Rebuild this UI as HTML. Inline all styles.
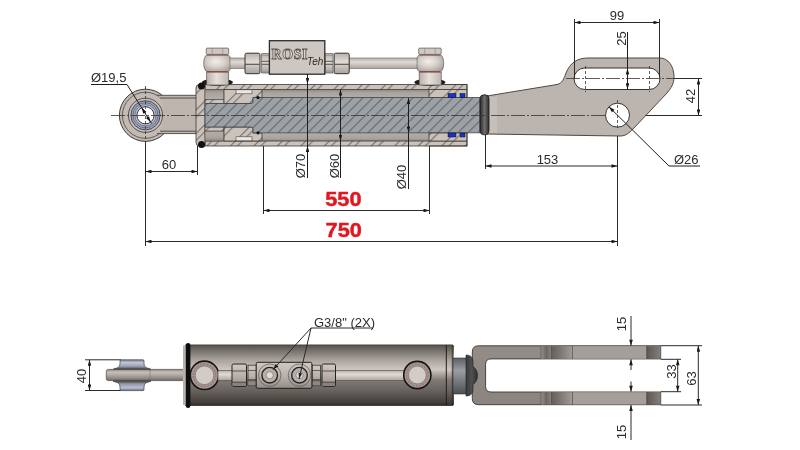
<!DOCTYPE html>
<html><head><meta charset="utf-8"><style>
html,body{margin:0;padding:0;background:#fff;width:800px;height:450px;overflow:hidden}
svg{display:block;will-change:transform}
text{font-family:"Liberation Sans",sans-serif}
</style></head><body>
<svg width="800" height="450" viewBox="0 0 800 450">
<defs>
  <pattern id="hB" patternUnits="userSpaceOnUse" width="16.6" height="20" patternTransform="rotate(45)">
    <rect width="16.6" height="20" fill="#cbc3bb"/>
    <line x1="0.6" y1="0" x2="0.6" y2="20" stroke="#4a4541" stroke-width="0.75"/>
    <line x1="5.6" y1="0" x2="5.6" y2="20" stroke="#4a4541" stroke-width="0.75"/>
  </pattern>
  <pattern id="hG" patternUnits="userSpaceOnUse" width="7.07" height="20" patternTransform="rotate(45)">
    <rect width="7.07" height="20" fill="#9ca1a6"/>
    <line x1="0.6" y1="0" x2="0.6" y2="20" stroke="#41464a" stroke-width="0.75"/>
  </pattern>
  <linearGradient id="gap" x1="0" y1="0" x2="0" y2="1">
    <stop offset="0" stop-color="#8d8782"/><stop offset="0.35" stop-color="#aaa39d"/><stop offset="1" stop-color="#b6afa9"/>
  </linearGradient>
  <linearGradient id="gapB" x1="0" y1="0" x2="0" y2="1">
    <stop offset="0" stop-color="#b6afa9"/><stop offset="0.65" stop-color="#aaa39d"/><stop offset="1" stop-color="#8d8782"/>
  </linearGradient>
  <linearGradient id="shank" x1="0" y1="0" x2="0" y2="1">
    <stop offset="0" stop-color="#b5ada6"/><stop offset="0.3" stop-color="#cdc5be"/><stop offset="1" stop-color="#bdb5ae"/>
  </linearGradient>
  <linearGradient id="ball" x1="0" y1="0" x2="1" y2="0">
    <stop offset="0" stop-color="#b9b1aa"/><stop offset="0.45" stop-color="#e6e0db"/><stop offset="1" stop-color="#bfb7b1"/>
  </linearGradient>
  <radialGradient id="ballR" cx="0.45" cy="0.4" r="0.65">
    <stop offset="0" stop-color="#f2eeeb"/><stop offset="0.5" stop-color="#d6d0cb"/><stop offset="1" stop-color="#aaa29c"/>
  </radialGradient>
  <linearGradient id="tubeT" x1="0" y1="0" x2="0" y2="1">
    <stop offset="0" stop-color="#b8b0aa"/><stop offset="0.4" stop-color="#e0dad5"/><stop offset="1" stop-color="#aaa29c"/>
  </linearGradient>
  <linearGradient id="body" x1="0" y1="0" x2="0" y2="1">
    <stop offset="0" stop-color="#4f4c46"/><stop offset="0.04" stop-color="#625e58"/><stop offset="0.1" stop-color="#77726b"/>
    <stop offset="0.25" stop-color="#aaa39d"/><stop offset="0.41" stop-color="#cfc8c2"/><stop offset="0.58" stop-color="#7f7a75"/>
    <stop offset="0.72" stop-color="#6d6863"/><stop offset="0.83" stop-color="#5a5550"/><stop offset="0.95" stop-color="#433f3b"/><stop offset="1" stop-color="#302c29"/>
  </linearGradient>
  <linearGradient id="rodB" x1="0" y1="0" x2="0" y2="1">
    <stop offset="0" stop-color="#8f8883"/><stop offset="0.25" stop-color="#c6bfb9"/><stop offset="0.45" stop-color="#b7b0aa"/><stop offset="0.8" stop-color="#8e8782"/><stop offset="1" stop-color="#6b6460"/>
  </linearGradient>
  <linearGradient id="neck" x1="0" y1="0" x2="0" y2="1">
    <stop offset="0" stop-color="#5d6165"/><stop offset="0.35" stop-color="#9a9ea2"/><stop offset="1" stop-color="#4c5054"/>
  </linearGradient>
  <linearGradient id="spool" x1="0" y1="0" x2="0" y2="1">
    <stop offset="0" stop-color="#7d8190"/><stop offset="0.3" stop-color="#b8bccb"/><stop offset="0.7" stop-color="#9ea2b2"/><stop offset="1" stop-color="#6f7382"/>
  </linearGradient>
  <linearGradient id="spoolT" x1="0" y1="0" x2="0" y2="1">
    <stop offset="0" stop-color="#7a7e90"/><stop offset="0.3" stop-color="#c2c6d8"/><stop offset="0.65" stop-color="#9ca0b4"/><stop offset="1" stop-color="#5f6272"/>
  </linearGradient>
  <linearGradient id="spoolB" x1="0" y1="1" x2="0" y2="0">
    <stop offset="0" stop-color="#6e7284"/><stop offset="0.3" stop-color="#bcc0d2"/><stop offset="0.65" stop-color="#989cb0"/><stop offset="1" stop-color="#5f6272"/>
  </linearGradient>
  <linearGradient id="domeG" x1="0" y1="0" x2="1" y2="0">
    <stop offset="0" stop-color="#3a3a3a"/><stop offset="0.5" stop-color="#505050"/><stop offset="1" stop-color="#2e2e2e"/>
  </linearGradient>
  <linearGradient id="clev" x1="0" y1="0" x2="0" y2="1">
    <stop offset="0" stop-color="#948d87"/><stop offset="1" stop-color="#8b847e"/>
  </linearGradient>
  <linearGradient id="blk" x1="0" y1="0" x2="0" y2="1">
    <stop offset="0" stop-color="#d0c9c3"/><stop offset="0.5" stop-color="#bab2ac"/><stop offset="1" stop-color="#958d87"/>
  </linearGradient>
  <linearGradient id="bandA" x1="0" y1="0" x2="1" y2="0">
    <stop offset="0" stop-color="#9a928c"/><stop offset="0.5" stop-color="#6d6661"/><stop offset="1" stop-color="#8a837e"/>
  </linearGradient>
  <linearGradient id="bandR" x1="0" y1="0" x2="1" y2="0">
    <stop offset="0" stop-color="#5d5651"/><stop offset="1" stop-color="#857e79"/>
  </linearGradient>
  <linearGradient id="bootG" x1="0" y1="0" x2="1" y2="0">
    <stop offset="0" stop-color="#2a2a2a"/><stop offset="0.5" stop-color="#6e6e6e"/><stop offset="1" stop-color="#2e2e2e"/>
  </linearGradient>
  <linearGradient id="armG" x1="0" y1="0" x2="1" y2="0">
    <stop offset="0" stop-color="#655e59"/><stop offset="1" stop-color="#a39b95"/>
  </linearGradient>
  <marker id="ar" viewBox="0 0 10 6" refX="10" refY="3" markerWidth="6.5" markerHeight="3.6" orient="auto-start-reverse" markerUnits="userSpaceOnUse">
    <path d="M0,0 L10,3 L0,6 z" fill="#1a1a1a"/>
  </marker>
</defs>

<!-- ================= TOP VIEW ================= -->
<g id="top">
  <!-- dimension / extension lines -->
  <g stroke="#2a2a2a" stroke-width="1" fill="none">
    <line x1="145.5" y1="88" x2="145.5" y2="246"/>
    <line x1="617.5" y1="128" x2="617.5" y2="246"/>
    <line x1="145.5" y1="241.5" x2="617.5" y2="241.5" marker-start="url(#ar)" marker-end="url(#ar)"/>
    <line x1="263.5" y1="141" x2="263.5" y2="214"/>
    <line x1="429.5" y1="146" x2="429.5" y2="214"/>
    <line x1="263.5" y1="210.5" x2="429.5" y2="210.5" marker-start="url(#ar)" marker-end="url(#ar)"/>
    <line x1="197.5" y1="146" x2="197.5" y2="175"/>
    <line x1="145.5" y1="171.5" x2="197.5" y2="171.5" marker-start="url(#ar)" marker-end="url(#ar)"/>
    <line x1="485.5" y1="135" x2="485.5" y2="169"/>
    <line x1="485.5" y1="166" x2="617.5" y2="166" marker-start="url(#ar)" marker-end="url(#ar)"/>
    <!-- 99 -->
    <line x1="574.5" y1="22.5" x2="659.5" y2="22.5" marker-start="url(#ar)" marker-end="url(#ar)"/>
    <!-- 42 -->
    <line x1="660" y1="78.5" x2="702" y2="78.5"/>
    <line x1="630" y1="115.5" x2="702" y2="115.5"/>
    <line x1="698.5" y1="78.5" x2="698.5" y2="115.5" marker-start="url(#ar)" marker-end="url(#ar)"/>
  </g>

  <!-- rod eye left -->
  <circle cx="145.5" cy="115.3" r="26.1" fill="#c2bab3" stroke="#3e3a37" stroke-width="1"/>
  <circle cx="145.5" cy="115.3" r="23.1" fill="none" stroke="#4a4542" stroke-width="0.8"/>
  <path d="M158 95.3 L197 95.3 L197 133.6 L158 133.6 Q163 130 163 115.3 Q163 100 158 95.3 Z" fill="#bdb5ae"/>
  <path d="M157 95.3 L197 95.3 M160 98 L197 98 M160 131.2 L197 131.2 M157 133.6 L197 133.6" fill="none" stroke="#4a4542" stroke-width="0.9"/>
  <circle cx="145.5" cy="115.3" r="17.1" fill="#c6beb7" stroke="#4a4542" stroke-width="0.9"/>
  <circle cx="145.5" cy="115.3" r="14.6" fill="#a3a8bd" stroke="#3a3d52" stroke-width="0.9"/>
  <circle cx="145.5" cy="115.3" r="12.6" fill="none" stroke="#50546c" stroke-width="0.7"/>
  <circle cx="145.5" cy="115.3" r="10.6" fill="#c3c7d6" stroke="#5a5e76" stroke-width="0.7"/>
  <circle cx="145.5" cy="115.3" r="8.6" fill="#ffffff" stroke="#222" stroke-width="0.9"/>
  <path d="M91 84.5 L127 84.5 L151.5 123.5" fill="none" stroke="#1e1e1e" stroke-width="1"/>
  <path d="M141.6 107.6 L146.3 111.75 L143.3 113.65 Z M150.7 122.2 L149 116.15 L145.97 118.05 Z" fill="#111"/>
  <!-- cylinder section -->
  <!-- gaps -->
  <rect x="205" y="89.5" width="224" height="9" fill="url(#gap)"/>
  <rect x="205" y="132.5" width="224" height="9" fill="url(#gapB)"/>
  <!-- tube walls -->
  <rect x="205" y="84.5" width="262" height="5" fill="url(#hB)" stroke="#3c3835" stroke-width="0.8"/>
  <rect x="205" y="141" width="262" height="5" fill="url(#hB)" stroke="#3c3835" stroke-width="0.8"/>
  <!-- end cap -->
  <path d="M196 88 Q196 84.5 199.5 84.5 L205 84.5 L205 146 L199.5 146 Q196 146 196 142.5 Z" fill="url(#hB)" stroke="#3c3835" stroke-width="0.8"/>
  <!-- cap cavity + lip -->
  <rect x="205" y="89.5" width="19" height="10" fill="url(#gap)" stroke="#5a5450" stroke-width="0.6"/>
  <rect x="205" y="99.5" width="19" height="4" fill="url(#hB)" stroke="#3c3835" stroke-width="0.6"/>
  <rect x="205" y="131" width="19" height="10" fill="url(#gapB)" stroke="#5a5450" stroke-width="0.6"/>
  <rect x="205" y="127" width="19" height="4" fill="url(#hB)" stroke="#3c3835" stroke-width="0.6"/>
  <!-- piston -->
  <path d="M224 89.5 L262 89.5 L262 97.5 L253 97.5 L253 103.5 L224 103.5 Z" fill="url(#hB)" stroke="#3c3835" stroke-width="0.8"/>
  <path d="M224 141 L262 141 L262 133 L253 133 L253 127 L224 127 Z" fill="url(#hB)" stroke="#3c3835" stroke-width="0.8"/>
  <rect x="236" y="89.8" width="16" height="4" fill="#e9e6e3" stroke="#444" stroke-width="0.6"/>
  <rect x="236" y="136.8" width="16" height="4" fill="#e9e6e3" stroke="#444" stroke-width="0.6"/>
  <!-- rod -->
  <path d="M205 103.5 L251 103.5 Q253 103.5 253 101.5 L253 97.5 L480 97.5 L480 132.8 L253 132.8 L253 129 Q253 127 251 127 L205 127 Z" fill="url(#hG)" stroke="#3f4448" stroke-width="0.8"/>
  <circle cx="258" cy="97.6" r="1.6" fill="#111"/><circle cx="258" cy="132.8" r="1.6" fill="#111"/>
  <!-- gland -->
  <path d="M429 89.5 L467 89.5 L467 97.5 L429 97.5 Z" fill="url(#hB)" stroke="#3c3835" stroke-width="0.8"/>
  <path d="M429 133 L467 133 L467 141 L429 141 Z" fill="url(#hB)" stroke="#3c3835" stroke-width="0.8"/>
  <path d="M429 84.5 L467 84.5 L467 97.5 M467 132.5 L467 146 L429 146" fill="none" stroke="#3c3835" stroke-width="0.8"/>
  <rect x="448" y="93.5" width="8" height="4" fill="#1a2fd0" stroke="#111" stroke-width="0.5"/>
  <rect x="460" y="93.5" width="5" height="4" fill="#1a2fd0" stroke="#111" stroke-width="0.5"/>
  <rect x="448" y="133" width="8" height="4" fill="#1a2fd0" stroke="#111" stroke-width="0.5"/>
  <rect x="460" y="133" width="5" height="4" fill="#1a2fd0" stroke="#111" stroke-width="0.5"/>
  <!-- o-rings end cap -->
  <circle cx="201.5" cy="86" r="3.5" fill="#111"/>
  <circle cx="201.5" cy="144.5" r="3.5" fill="#111"/>

  <!-- lug -->
  <path d="M487 96 L557 84.5 C562 83.5 564 79 566 73 C570 63 577 58 588 58 L660 58 C668 58 674 66 674 77 C674 84 671 88 667 93 L633 129 C629 133 626 136 620 136 L487 134 Z" fill="#bcb4ae" stroke="#4d4845" stroke-width="1"/>
  <rect x="487" y="97" width="10" height="36" fill="#cfc7c0" opacity="0.6"/>
  <rect x="574" y="68" width="86" height="21.5" rx="10.75" fill="#fff" stroke="#333" stroke-width="1"/>
  <circle cx="617.5" cy="115.2" r="12" fill="#fff" stroke="#333" stroke-width="1"/>
  <!-- wiper ring -->
  <rect x="480" y="94.8" width="9" height="40" rx="4" fill="url(#bootG)" stroke="#1a1a1a" stroke-width="0.8"/>

  <path d="M609 106.8 L669 166 L700 166" fill="none" stroke="#1e1e1e" stroke-width="1"/>
  <path d="M608.9 106.8 L614.46 109.71 L611.94 112.29 Z" fill="#111"/>
  <path d="M574.5 19 V78.7 M659.5 19 V77.5" stroke="#2a2a2a" stroke-width="1" fill="none"/>
  <!-- centre lines -->
  <g stroke="#333" stroke-width="0.8" fill="none" stroke-dasharray="14 2 2 2">
    <line x1="111" y1="115.5" x2="605" y2="115.5"/>
    <line x1="566" y1="78.5" x2="680" y2="78.5"/>
  </g>
  <g stroke="#333" stroke-width="0.8" fill="none" stroke-dasharray="3 2">
    <line x1="585.5" y1="66" x2="585.5" y2="92"/>
    <line x1="649.5" y1="66" x2="649.5" y2="92"/>
    <line x1="145.5" y1="86" x2="145.5" y2="144"/>
    <line x1="617.5" y1="100" x2="617.5" y2="130"/>
  </g>

  <!-- top piping -->
  <!-- banjo left -->
  <ellipse cx="217.39999999999998" cy="82.2" rx="15.5" ry="3.6" fill="#1c1c1c"/>
  <rect x="206.7" y="72" width="22" height="13" fill="url(#ball)" stroke="#5a5450" stroke-width="0.7"/>
  <path d="M206.79999999999998 54.7 C202.7 57.5 202.7 69 206.79999999999998 71.8 L228.1 71.8 C232.2 69 232.2 57.5 228.1 54.7 Z" fill="url(#ballR)" stroke="#5a5450" stroke-width="0.7"/>
  <line x1="207.0" y1="55" x2="228.0" y2="55" stroke="#8e4a46" stroke-width="1.1"/>
  <line x1="207.0" y1="71.6" x2="228.0" y2="71.6" stroke="#8e4a46" stroke-width="1.1"/>
  <rect x="206.2" y="48.1" width="22.5" height="6.3" rx="1" fill="#cfc8c2" stroke="#5a5450" stroke-width="0.7"/>
  <line x1="212.2" y1="48.3" x2="212.2" y2="54.3" stroke="#8a837e" stroke-width="0.6"/>
  <line x1="222.7" y1="48.3" x2="222.7" y2="54.3" stroke="#8a837e" stroke-width="0.6"/>
  <!-- banjo right -->
  <ellipse cx="429.9" cy="82.2" rx="15.5" ry="3.6" fill="#1c1c1c"/>
  <rect x="419.2" y="72" width="22" height="13" fill="url(#ball)" stroke="#5a5450" stroke-width="0.7"/>
  <path d="M419.3 54.7 C415.2 57.5 415.2 69 419.3 71.8 L440.59999999999997 71.8 C444.7 69 444.7 57.5 440.59999999999997 54.7 Z" fill="url(#ballR)" stroke="#5a5450" stroke-width="0.7"/>
  <line x1="419.5" y1="55" x2="440.5" y2="55" stroke="#8e4a46" stroke-width="1.1"/>
  <line x1="419.5" y1="71.6" x2="440.5" y2="71.6" stroke="#8e4a46" stroke-width="1.1"/>
  <rect x="418.7" y="48.1" width="22.5" height="6.3" rx="1" fill="#cfc8c2" stroke="#5a5450" stroke-width="0.7"/>
  <line x1="424.7" y1="48.3" x2="424.7" y2="54.3" stroke="#8a837e" stroke-width="0.6"/>
  <line x1="435.2" y1="48.3" x2="435.2" y2="54.3" stroke="#8a837e" stroke-width="0.6"/>
  <!-- tubes -->
  <rect x="230" y="58" width="16" height="10.5" fill="url(#tubeT)" stroke="#666" stroke-width="0.6"/>
  <rect x="349" y="58" width="68" height="10.5" fill="url(#tubeT)" stroke="#666" stroke-width="0.6"/>
  <!-- nuts -->
  <rect x="245" y="53.2" width="15" height="20.5" rx="1.5" fill="url(#tubeT)" stroke="#333" stroke-width="1"/>
  <line x1="245" y1="64.3" x2="259.6" y2="64.3" stroke="#3e3a37" stroke-width="0.9"/>
  <rect x="261.7" y="53.7" width="7.6" height="19.3" fill="url(#tubeT)" stroke="#555" stroke-width="0.7"/>
  <path d="M261.7 61.3 H269.3 M261.7 64.3 H269.3" stroke="#4a4542" stroke-width="0.9"/>
  <path d="M261.7 55.5 H269.3 M261.7 71.2 H269.3" stroke="#8a837e" stroke-width="0.5"/>
  <rect x="334.2" y="53.2" width="15" height="20.5" rx="1.5" fill="url(#tubeT)" stroke="#333" stroke-width="1"/>
  <line x1="334.5" y1="64.3" x2="349" y2="64.3" stroke="#3e3a37" stroke-width="0.9"/>
  <rect x="325" y="53.7" width="8" height="19.3" fill="url(#tubeT)" stroke="#555" stroke-width="0.7"/>
  <path d="M325 61.3 H333 M325 64.3 H333" stroke="#4a4542" stroke-width="0.9"/>
  <path d="M325 55.5 H333 M325 71.2 H333" stroke="#8a837e" stroke-width="0.5"/>
  <!-- ROSI block -->
  <rect x="269.4" y="40.7" width="55.4" height="33.5" fill="#cec6c1" stroke="#2d2d2d" stroke-width="1.3"/>
  <text x="271.5" y="59" style="font-family:'Liberation Serif',serif" font-weight="bold" font-size="14" letter-spacing="0.6" fill="#e2dcd7" stroke="#57524e" stroke-width="0.8">ROSI</text>
  <text x="307" y="64.5" font-family="Liberation Sans" font-style="italic" font-size="10" fill="#2a2a2a">Teh</text>

  <!-- dimension arrows inside -->
  <g stroke="#1e1e1e" stroke-width="1" fill="none">
    <line x1="307.5" y1="74" x2="307.5" y2="84" marker-end="url(#ar)"/>
    <line x1="307.5" y1="178" x2="307.5" y2="146" marker-end="url(#ar)"/>
    <line x1="307.5" y1="84" x2="307.5" y2="146"/>
    <line x1="340.5" y1="115" x2="340.5" y2="89.5" marker-end="url(#ar)"/>
    <line x1="340.5" y1="115" x2="340.5" y2="141" marker-end="url(#ar)"/>
    <line x1="340.5" y1="141" x2="340.5" y2="178"/>
    <line x1="408.5" y1="115" x2="408.5" y2="98" marker-end="url(#ar)"/>
    <line x1="408.5" y1="115" x2="408.5" y2="132.5" marker-end="url(#ar)"/>
    <line x1="408.5" y1="132.5" x2="408.5" y2="189"/>
    <line x1="627.5" y1="32" x2="627.5" y2="89.5"/>
    <line x1="627.5" y1="79" x2="627.5" y2="68.5" marker-end="url(#ar)"/>
    <line x1="627.5" y1="79" x2="627.5" y2="89.2" marker-end="url(#ar)"/>
  </g>

  <!-- texts -->
  <g fill="#2b2b2b" font-size="13">
    <text x="91" y="81.5">Ø19,5</text>
    <text x="169" y="168.5" text-anchor="middle">60</text>
    <text x="547.5" y="164" text-anchor="middle">153</text>
    <text x="617" y="20" text-anchor="middle">99</text>
    <text x="674" y="164">Ø26</text>
    <text transform="translate(305 166) rotate(-90)" text-anchor="middle">Ø70</text>
    <text transform="translate(338.5 166) rotate(-90)" text-anchor="middle">Ø60</text>
    <text transform="translate(405.5 177) rotate(-90)" text-anchor="middle">Ø40</text>
    <text transform="translate(625.5 38.5) rotate(-90)" text-anchor="middle">25</text>
    <text transform="translate(695 96) rotate(-90)" text-anchor="middle">42</text>
  </g>
  <g fill="#e3161f" font-size="20" font-weight="bold" stroke="#e3161f" stroke-width="0.45">
    <text transform="translate(343.4 205.5) scale(1.09 1)" text-anchor="middle">550</text>
    <text transform="translate(343.7 237) scale(1.09 1)" text-anchor="middle">750</text>
  </g>
</g>

<!-- ================= BOTTOM VIEW ================= -->
<g id="bottom">
  <!-- 40 dimension -->
  <g stroke="#2a2a2a" stroke-width="1" fill="none">
    <line x1="85" y1="359.8" x2="121" y2="359.8"/>
    <line x1="85" y1="390.5" x2="121" y2="390.5"/>
    <line x1="89.5" y1="359.8" x2="89.5" y2="390.5" marker-start="url(#ar)" marker-end="url(#ar)"/>
  </g>
  <!-- rod eye side -->
  <path d="M121 359.8 L143 359.8 Q144 359.8 144 361 L144 363.5 Q144 368.3 151 369.5 L113 369.5 Q120 368.3 120 363.5 L120 361 Q120 359.8 121 359.8 Z" fill="url(#spoolT)" stroke="#3e4150" stroke-width="0.7"/>
  <path d="M121 390.6 L143 390.6 Q144 390.6 144 389.4 L144 387 Q144 382.2 151 381 L113 381 Q120 382.2 120 387 L120 389.4 Q120 390.6 121 390.6 Z" fill="url(#spoolB)" stroke="#3e4150" stroke-width="0.7"/>
  <rect x="113" y="367.8" width="38" height="14.6" rx="3" fill="#5b5652"/>
  <rect x="106.3" y="369.4" width="78.5" height="11.2" rx="2.2" fill="url(#rodB)" stroke="#4a4542" stroke-width="0.7"/>
  <line x1="150" y1="369.6" x2="150" y2="380.4" stroke="#6a6460" stroke-width="0.5"/>
  <!-- body -->
  <rect x="185" y="344.75" width="269" height="60.75" rx="1.5" fill="url(#body)"/>
  <line x1="185" y1="345" x2="453" y2="345" stroke="#4a4641" stroke-width="0.7"/>
  <line x1="185" y1="405.5" x2="453" y2="405.5" stroke="#2e2a27" stroke-width="0.8"/>
  <line x1="446.3" y1="345" x2="446.3" y2="405.5" stroke="#1e1b19" stroke-width="1"/><line x1="452.3" y1="345" x2="452.3" y2="405.5" stroke="#2e2a27" stroke-width="0.8"/>
  <rect x="183" y="345.5" width="3" height="59.5" fill="#b9b1ab"/>
  <rect x="185.8" y="343" width="4.6" height="65" rx="2.3" fill="#0e0e0e"/>
  <!-- left port -->
  <circle cx="204.5" cy="375.3" r="14.2" fill="#a39b95" stroke="#151515" stroke-width="1.6"/>
  <circle cx="204.5" cy="375.3" r="11.2" fill="none" stroke="#a57474" stroke-width="1.5" stroke-dasharray="2.2 1"/>
  <circle cx="204.5" cy="375.3" r="9.3" fill="#d3cbc5" stroke="#6a6460" stroke-width="0.6"/>
  <!-- tubes -->
  <rect x="218" y="370.3" width="14.5" height="10.3" fill="url(#tubeT)" stroke="#4b4541" stroke-width="0.6"/>
  <rect x="335.5" y="370.3" width="69" height="10.3" fill="url(#tubeT)" stroke="#4b4541" stroke-width="0.6"/>
  <!-- nuts/fittings -->
  <rect x="232" y="364" width="14.5" height="22.4" rx="1.5" fill="url(#blk)" stroke="#222" stroke-width="1"/>
  <rect x="232.5" y="382.2" width="13.5" height="3.7" fill="#8a827c"/>
  <path d="M232 371 H246.5 M232 382.2 H246.5" stroke="#3a3633" stroke-width="0.8"/>
  <rect x="248" y="365.2" width="8.3" height="20.5" fill="url(#blk)" stroke="#333" stroke-width="0.8"/>
  <rect x="248.4" y="380.7" width="7.500000000000001" height="4.6" fill="#8f8781"/>
  <path d="M248 370.5 H256.3 M248 379.6 H256.3 M248 380.7 H256.3" stroke="#3a3633" stroke-width="0.7"/>
  <rect x="312.2" y="365.2" width="8.3" height="20.5" fill="url(#blk)" stroke="#333" stroke-width="0.8"/>
  <rect x="312.59999999999997" y="380.7" width="7.500000000000001" height="4.6" fill="#8f8781"/>
  <path d="M312.2 370.5 H320.5 M312.2 379.6 H320.5 M312.2 380.7 H320.5" stroke="#3a3633" stroke-width="0.7"/>
  <rect x="322" y="364" width="13.5" height="22.4" rx="1.5" fill="url(#blk)" stroke="#222" stroke-width="1"/>
  <rect x="322.5" y="382.2" width="12.5" height="3.7" fill="#8a827c"/>
  <path d="M322 371 H335.5 M322 382.2 H335.5" stroke="#3a3633" stroke-width="0.8"/>
  <!-- block -->
  <rect x="256.2" y="362.3" width="55.7" height="26" rx="1.5" fill="url(#blk)" stroke="#1f1f1f" stroke-width="1"/>
  <circle cx="269.7" cy="375.2" r="11.2" fill="none" stroke="#5a5450" stroke-width="0.7"/>
  <circle cx="269.7" cy="375.2" r="7.8" fill="#b7afa9" stroke="#222" stroke-width="1.35"/>
  <circle cx="269.7" cy="375.2" r="3.6" fill="#e2dcd7" stroke="#555" stroke-width="0.5"/>
  <circle cx="299.5" cy="375.2" r="11.2" fill="none" stroke="#5a5450" stroke-width="0.7"/>
  <circle cx="299.5" cy="375.2" r="7.8" fill="#b7afa9" stroke="#222" stroke-width="1.35"/>
  <circle cx="299.5" cy="375.2" r="3.6" fill="#e2dcd7" stroke="#555" stroke-width="0.5"/>
  <path d="M273 369.6 L278.37 366.38 L275.71 363.96 Z M299 379 L302.12 373.57 L298.62 372.75 Z" fill="#111"/>
  <!-- right port -->
  <circle cx="417.3" cy="375" r="13.6" fill="#a39b95" stroke="#151515" stroke-width="1.6"/>
  <circle cx="417.3" cy="375" r="10.8" fill="none" stroke="#a57474" stroke-width="1.5" stroke-dasharray="2.2 1"/>
  <circle cx="417.3" cy="375" r="8.9" fill="#d3cbc5" stroke="#6a6460" stroke-width="0.6"/>
  <!-- neck + dome -->
  <rect x="453" y="358" width="15" height="36" fill="url(#neck)" stroke="#333" stroke-width="0.6"/>
  
  <!-- clevis -->
  <path d="M478.5 345.8 L660.7 345.8 L660.7 358.9 L491 358.9 Q485.6 358.9 485.6 364.3 L485.6 386.6 Q485.6 392 491 392 L660.7 392 L660.7 404.7 L478.5 404.7 Q472.3 404.7 472.3 398.5 L472.3 352 Q472.3 345.8 478.5 345.8 Z" fill="url(#clev)" stroke="#3a3532" stroke-width="0.9"/>
  <g stroke="none">
    <rect x="572.5" y="346.2" width="74" height="12.6" fill="#a69e98"/>
    <rect x="541" y="346.2" width="10.5" height="12.6" fill="url(#bandA)"/>
    <rect x="551.5" y="346.2" width="21" height="12.6" fill="url(#armG)"/>
    <rect x="646.5" y="346.2" width="14" height="12.6" fill="url(#bandR)"/>
    <rect x="572.5" y="392.2" width="74" height="12.3" fill="#a69e98"/>
    <rect x="541" y="392.2" width="10.5" height="12.3" fill="url(#bandA)"/>
    <rect x="551.5" y="392.2" width="21" height="12.3" fill="url(#armG)"/>
    <rect x="646.5" y="392.2" width="14" height="12.3" fill="url(#bandR)"/>
  </g>
  <g stroke="#4a4541" stroke-width="0.6">
    <line x1="541" y1="346" x2="541" y2="359"/><line x1="551.5" y1="346" x2="551.5" y2="359"/><line x1="572.5" y1="346" x2="572.5" y2="359"/><line x1="647" y1="346" x2="647" y2="359"/>
    <line x1="541" y1="392" x2="541" y2="405"/><line x1="551.5" y1="392" x2="551.5" y2="405"/><line x1="572.5" y1="392" x2="572.5" y2="405"/><line x1="647" y1="392" x2="647" y2="405"/>
  </g>
  <path d="M466 355 Q472.5 355 473 361 L473 366.5 Q477.5 369.5 477.5 375.5 Q477.5 381.5 473 384.5 L473 390 Q472.5 396 466 396 Z" fill="url(#domeG)" stroke="#1e1e1e" stroke-width="0.6"/>
  <!-- right dims -->
  <g stroke="#2a2a2a" stroke-width="1" fill="none">
    <line x1="631" y1="316" x2="631" y2="345.7" marker-end="url(#ar)"/>
    <line x1="631" y1="370" x2="631" y2="359.3" marker-end="url(#ar)"/>
    <line x1="631" y1="381.5" x2="631" y2="391.7" marker-end="url(#ar)"/>
    <line x1="631" y1="440" x2="631" y2="405" marker-end="url(#ar)"/>
    <line x1="660.7" y1="359.3" x2="681" y2="359.3"/>
    <line x1="660.7" y1="391.7" x2="681" y2="391.7"/>
    <line x1="677.7" y1="359.3" x2="677.7" y2="391.7" marker-start="url(#ar)" marker-end="url(#ar)"/>
    <line x1="660.7" y1="345.7" x2="702" y2="345.7"/>
    <line x1="660.7" y1="405" x2="702" y2="405"/>
    <line x1="698.3" y1="345.7" x2="698.3" y2="405" marker-start="url(#ar)" marker-end="url(#ar)"/>
    <!-- G3/8 leader -->
    <path d="M373 328 L311 328 L273 369.6"/>
    <path d="M311 328 L299 379"/>
  </g>
  <g fill="#2b2b2b" font-size="13">
    <text transform="translate(86 376) rotate(-90)" text-anchor="middle">40</text>
    <text transform="translate(626 324) rotate(-90)" text-anchor="middle">15</text>
    <text transform="translate(626 432) rotate(-90)" text-anchor="middle">15</text>
    <text transform="translate(676 371.5) rotate(-90)" text-anchor="middle">33</text>
    <text transform="translate(695.5 378.5) rotate(-90)" text-anchor="middle">63</text>
    <text x="314" y="326.5">G3/8" (2X)</text>
  </g>
</g>
</svg>
</body></html>
